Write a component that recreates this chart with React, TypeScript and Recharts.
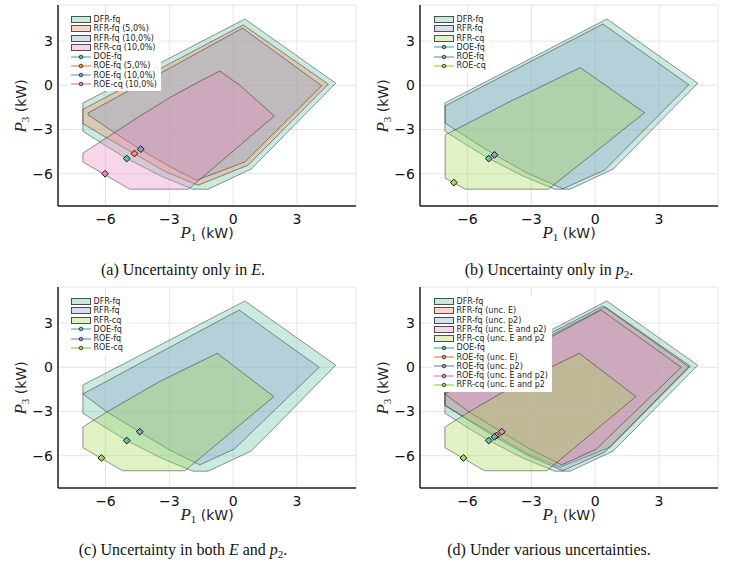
import React from 'react';
import { ScatterChart, Scatter, XAxis, YAxis, CartesianGrid, Legend } from 'recharts';

type Pt = { x: number; y: number };

// ---------- data (kW) ----------
const X_TICKS = [-6, -3, 0, 3];
const Y_TICKS = [-6, -3, 0, 3];
const X_DOMAIN: [number, number] = [-8.23, 5.77];
const Y_DOMAIN: [number, number] = [-8.19, 5.45];

const DFR_FQ: Pt[] = [
  { x: -7.06, y: -1.2 }, { x: 0.55, y: 4.5 }, { x: 4.82, y: 0.14 }, { x: 0.85, y: -5.68 },
  { x: -1.18, y: -7.05 }, { x: -1.9, y: -7.05 }, { x: -3.4, y: -6.15 }, { x: -5.0, y: -4.97 },
  { x: -6.1, y: -4.0 }, { x: -7.06, y: -3.12 },
];
const RFR_FQ_E5: Pt[] = [
  { x: -7.06, y: -1.63 }, { x: 0.47, y: 4.1 }, { x: 4.47, y: 0.08 }, { x: 0.7, y: -5.42 },
  { x: -1.65, y: -6.78 }, { x: -3.2, y: -5.85 }, { x: -4.65, y: -4.63 }, { x: -6.0, y: -3.52 },
  { x: -7.06, y: -2.6 },
];
const RFR_FQ_E10: Pt[] = [
  { x: -6.82, y: -1.88 }, { x: 0.44, y: 3.88 }, { x: 4.16, y: -0.03 }, { x: 0.55, y: -5.2 },
  { x: -1.72, y: -6.44 }, { x: -3.0, y: -5.5 }, { x: -4.36, y: -4.35 }, { x: -5.64, y: -3.15 },
  { x: -6.82, y: -2.0 },
];
const RFR_CQ_E10: Pt[] = [
  { x: -7.06, y: -4.6 }, { x: -4.5, y: -2.2 }, { x: -3.0, y: -0.85 }, { x: -1.6, y: 0.25 },
  { x: -0.63, y: 0.97 }, { x: 0.3, y: 0.02 }, { x: 1.93, y: -2.08 }, { x: -2.1, y: -7.05 },
  { x: -4.86, y: -7.05 }, { x: -7.06, y: -5.2 },
];
const RFR_FQ_P2: Pt[] = [
  { x: -7.05, y: -1.4 }, { x: 0.36, y: 4.16 }, { x: 4.4, y: 0.04 }, { x: 0.45, y: -5.75 },
  { x: -1.52, y: -7.02 }, { x: -3.2, y: -5.95 }, { x: -4.72, y: -4.71 }, { x: -6.0, y: -3.55 },
  { x: -7.05, y: -2.56 },
];
const RFR_CQ_P2: Pt[] = [
  { x: -7.05, y: -3.37 }, { x: -4.0, y: -1.1 }, { x: -0.7, y: 1.2 }, { x: 2.32, y: -1.86 },
  { x: -2.2, y: -7.05 }, { x: -6.1, y: -7.05 }, { x: -7.05, y: -6.3 },
];
const RFR_FQ_EP2: Pt[] = [
  { x: -7.06, y: -1.81 }, { x: 0.28, y: 3.89 }, { x: 4.04, y: 0.0 }, { x: 0.05, y: -5.55 },
  { x: -1.57, y: -6.62 }, { x: -3.0, y: -5.6 }, { x: -4.4, y: -4.38 }, { x: -5.95, y: -3.01 },
];
const RFR_CQ_EP2: Pt[] = [
  { x: -7.06, y: -4.05 }, { x: -5.9, y: -3.0 }, { x: -3.5, y: -1.0 }, { x: -0.75, y: 0.95 },
  { x: 1.91, y: -1.99 }, { x: -2.27, y: -7.02 }, { x: -5.2, y: -7.02 }, { x: -7.06, y: -5.45 },
];

const DOE_FQ: Pt[] = [{ x: -5.0, y: -4.97 }];
const ROE_FQ_E5: Pt[] = [{ x: -4.64, y: -4.63 }];
const ROE_FQ_E10: Pt[] = [{ x: -4.34, y: -4.33 }];
const ROE_CQ_E10: Pt[] = [{ x: -6.02, y: -6.0 }];
const ROE_FQ_P2: Pt[] = [{ x: -4.73, y: -4.72 }];
const ROE_CQ_P2: Pt[] = [{ x: -6.64, y: -6.6 }];
const ROE_FQ_EP2: Pt[] = [{ x: -4.39, y: -4.37 }];
const ROE_CQ_EP2: Pt[] = [{ x: -6.19, y: -6.15 }];

const GREEN = '#66c2a5';
const ORANGE = '#fc8d62';
const BLUE = '#8da0cb';
const PINK = '#e78ac3';
const LIME = '#a6d854';
const FILL_ALPHA = 0.35;

type Series = { label: string; data: Pt[]; color: string };

const REGIONS_A: Series[] = [
  { label: 'DFR-fq', data: DFR_FQ, color: GREEN },
  { label: 'RFR-fq (5,0%)', data: RFR_FQ_E5, color: ORANGE },
  { label: 'RFR-fq (10,0%)', data: RFR_FQ_E10, color: BLUE },
  { label: 'RFR-cq (10,0%)', data: RFR_CQ_E10, color: PINK },
];
const POINTS_A: Series[] = [
  { label: 'DOE-fq', data: DOE_FQ, color: GREEN },
  { label: 'ROE-fq (5,0%)', data: ROE_FQ_E5, color: ORANGE },
  { label: 'ROE-fq (10,0%)', data: ROE_FQ_E10, color: BLUE },
  { label: 'ROE-cq (10,0%)', data: ROE_CQ_E10, color: PINK },
];
const REGIONS_B: Series[] = [
  { label: 'DFR-fq', data: DFR_FQ, color: GREEN },
  { label: 'RFR-fq', data: RFR_FQ_P2, color: BLUE },
  { label: 'RFR-cq', data: RFR_CQ_P2, color: LIME },
];
const POINTS_B: Series[] = [
  { label: 'DOE-fq', data: DOE_FQ, color: GREEN },
  { label: 'ROE-fq', data: ROE_FQ_P2, color: BLUE },
  { label: 'ROE-cq', data: ROE_CQ_P2, color: LIME },
];
const REGIONS_C: Series[] = [
  { label: 'DFR-fq', data: DFR_FQ, color: GREEN },
  { label: 'RFR-fq', data: RFR_FQ_EP2, color: BLUE },
  { label: 'RFR-cq', data: RFR_CQ_EP2, color: LIME },
];
const POINTS_C: Series[] = [
  { label: 'DOE-fq', data: DOE_FQ, color: GREEN },
  { label: 'ROE-fq', data: ROE_FQ_EP2, color: BLUE },
  { label: 'ROE-cq', data: ROE_CQ_EP2, color: LIME },
];
const REGIONS_D: Series[] = [
  { label: 'DFR-fq', data: DFR_FQ, color: GREEN },
  { label: 'RFR-fq (unc. E)', data: RFR_FQ_E5, color: ORANGE },
  { label: 'RFR-fq (unc. p2)', data: RFR_FQ_P2, color: BLUE },
  { label: 'RFR-fq (unc. E and p2)', data: RFR_FQ_EP2, color: PINK },
  { label: 'RFR-cq (unc. E and p2', data: RFR_CQ_EP2, color: LIME },
];
const POINTS_D: Series[] = [
  { label: 'DOE-fq', data: DOE_FQ, color: GREEN },
  { label: 'ROE-fq (unc. E)', data: ROE_FQ_E5, color: ORANGE },
  { label: 'ROE-fq (unc. p2)', data: ROE_FQ_P2, color: BLUE },
  { label: 'ROE-fq (unc. E and p2)', data: ROE_FQ_EP2, color: PINK },
  { label: 'RFR-cq (unc. E and p2', data: ROE_CQ_EP2, color: LIME },
];

// ---------- helpers ----------
const hexToRgba = (hex: string, a: number) => {
  const n = parseInt(hex.slice(1), 16);
  return `rgba(${(n >> 16) & 255},${(n >> 8) & 255},${n & 255},${a})`;
};

const polyLine = (color: string) => (props: any) => {
  const pts = (props.points || []).map((p: any) => `${p.x},${p.y}`).join(' ');
  return (
    <polygon
      points={pts}
      fill={color}
      fillOpacity={FILL_ALPHA}
      stroke="#000"
      strokeOpacity={0.45}
      strokeWidth={0.9}
      strokeLinejoin="round"
    />
  );
};
const noShape = () => <g />;
const diamondShape = (color: string) => (props: any) => {
  const { cx, cy } = props;
  const r = 3.4;
  return (
    <path
      d={`M${cx},${cy - r}L${cx + r},${cy}L${cx},${cy + r}L${cx - r},${cy}Z`}
      fill={color}
      stroke="#000"
      strokeWidth={0.9}
    />
  );
};
const fmtTick = (v: number) => (v < 0 ? '\u2212' + Math.abs(v) : String(v));

function LegendBox({ regions, points }: { regions: Series[]; points: Series[] }) {
  const row: React.CSSProperties = { display: 'flex', alignItems: 'center', height: 9.25, whiteSpace: 'nowrap' };
  return (
    <div
      style={{
        background: '#fff',
        padding: '1px 4px 2px 3px',
        fontFamily: '"DejaVu Sans", sans-serif',
        fontSize: 8,
        color: '#222',
        lineHeight: '9.25px',
      }}
    >
      {regions.map((e) => (
        <div key={'r' + e.label} style={row}>
          <span
            style={{
              display: 'inline-block',
              width: 20,
              height: 7,
              boxSizing: 'border-box',
              border: '1px solid rgba(0,0,0,0.65)',
              background: hexToRgba(e.color, FILL_ALPHA),
              marginRight: 2.5,
            }}
          />
          <span>{e.label}</span>
        </div>
      ))}
      {points.map((e) => (
        <div key={'p' + e.label} style={row}>
          <svg width={20} height={8} style={{ marginRight: 2.5, display: 'block' }}>
            <line x1={0} y1={4} x2={20} y2={4} stroke={e.color} strokeWidth={1.4} />
            <circle cx={10} cy={4} r={1.8} fill={e.color} stroke="#222" strokeWidth={0.8} />
          </svg>
          <span>{e.label}</span>
        </div>
      ))}
    </div>
  );
}

function AxisTitle({ sub, cx, cy, vertical }: { sub: string; cx: number; cy: number; vertical?: boolean }) {
  return (
    <div
      style={{
        position: 'absolute',
        left: cx,
        top: cy,
        transform: `translate(-50%,-50%)${vertical ? ' rotate(-90deg)' : ''}`,
        whiteSpace: 'nowrap',
        color: '#222',
        lineHeight: '18px',
      }}
    >
      <span style={{ fontFamily: '"Liberation Serif", serif', fontStyle: 'italic', fontSize: 17 }}>P</span>
      <span style={{ fontFamily: '"Liberation Serif", serif', fontSize: 11, position: 'relative', top: 3 }}>{sub}</span>
      <span style={{ fontFamily: '"DejaVu Sans", sans-serif', fontSize: 14 }}> (kW)</span>
    </div>
  );
}

type PanelProps = {
  left: number;
  top: number;
  yw: number;
  mr: number;
  legendLeft: number;
  regions: Series[];
  points: Series[];
};

function Panel({ left, top, yw, mr, legendLeft, regions, points }: PanelProps) {
  const W = 366;
  const H = 250;
  const plotLeft = yw;
  const plotRight = W - mr;
  const plotTop = 5;
  const plotBottom = 206;
  return (
    <div style={{ position: 'absolute', left, top, width: W, height: H }}>
      <ScatterChart width={W} height={H} margin={{ top: plotTop, right: mr, bottom: 0, left: 0 }}>
        <CartesianGrid stroke="#e4e4e4" strokeWidth={1} />
        <XAxis
          type="number"
          dataKey="x"
          domain={X_DOMAIN}
          ticks={X_TICKS}
          allowDataOverflow
          height={H - plotBottom}
          tickLine={false}
          tickSize={0}
          tickMargin={8}
          tickFormatter={fmtTick}
          tick={{ fontSize: 14, fill: '#111', fontFamily: '"DejaVu Sans", sans-serif' }}
          axisLine={{ stroke: '#222', strokeWidth: 1.5 }}
        />
        <YAxis
          type="number"
          dataKey="y"
          domain={Y_DOMAIN}
          ticks={Y_TICKS}
          allowDataOverflow
          width={yw}
          tickLine={false}
          tickSize={0}
          tickMargin={5}
          tickFormatter={fmtTick}
          tick={{ fontSize: 14, fill: '#111', fontFamily: '"DejaVu Sans", sans-serif' }}
          axisLine={{ stroke: '#222', strokeWidth: 1.5 }}
        />
        {regions.map((r) => (
          <Scatter
            key={'reg-' + r.label}
            name={r.label}
            data={r.data}
            fill={r.color}
            line={polyLine(r.color)}
            lineType="joint"
            shape={noShape}
            legendType="none"
            isAnimationActive={false}
          />
        ))}
        {points.map((p) => (
          <Scatter
            key={'pt-' + p.label}
            name={p.label}
            data={p.data}
            fill={p.color}
            shape={diamondShape(p.color)}
            legendType="none"
            isAnimationActive={false}
          />
        ))}
        <Legend
          layout="vertical"
          align="center"
          verticalAlign="middle"
          wrapperStyle={{ left: legendLeft, top: 14, width: 'auto', height: 'auto' }}
          content={() => <LegendBox regions={regions} points={points} />}
        />
      </ScatterChart>
      <AxisTitle sub="1" cx={(plotLeft + plotRight) / 2} cy={232.5} />
      <AxisTitle sub="3" cx={plotLeft - 37} cy={(plotTop + plotBottom) / 2} vertical />
    </div>
  );
}

const capStyle: React.CSSProperties = {
  position: 'absolute',
  width: 366,
  textAlign: 'center',
  fontFamily: '"Liberation Serif", "Times New Roman", serif',
  fontSize: 16,
  lineHeight: '16px',
  color: '#111',
  whiteSpace: 'nowrap',
};
const mathStyle: React.CSSProperties = { fontStyle: 'italic' };
const subStyle: React.CSSProperties = { fontSize: 11, position: 'relative', top: 3 };

export default function App() {
  return (
    <div style={{ position: 'absolute', left: 0, top: 0, width: 732, height: 566, background: '#fff', overflow: 'hidden' }}>
      <Panel left={0} top={0} yw={58} mr={10} legendLeft={68} regions={REGIONS_A} points={POINTS_A} />
      <Panel left={366} top={0} yw={54} mr={14} legendLeft={65} regions={REGIONS_B} points={POINTS_B} />
      <Panel left={0} top={282} yw={58} mr={10} legendLeft={68} regions={REGIONS_C} points={POINTS_C} />
      <Panel left={366} top={282} yw={54} mr={14} legendLeft={65} regions={REGIONS_D} points={POINTS_D} />

      <div style={{ ...capStyle, left: 0, top: 262 }}>
        (a) Uncertainty only in <span style={mathStyle}>E</span>.
      </div>
      <div style={{ ...capStyle, left: 366, top: 262 }}>
        (b) Uncertainty only in <span style={mathStyle}>p</span>
        <span style={subStyle}>2</span>.
      </div>
      <div style={{ ...capStyle, left: 0, top: 542 }}>
        (c) Uncertainty in both <span style={mathStyle}>E</span> and <span style={mathStyle}>p</span>
        <span style={subStyle}>2</span>.
      </div>
      <div style={{ ...capStyle, left: 366, top: 542 }}>(d) Under various uncertainties.</div>
    </div>
  );
}
